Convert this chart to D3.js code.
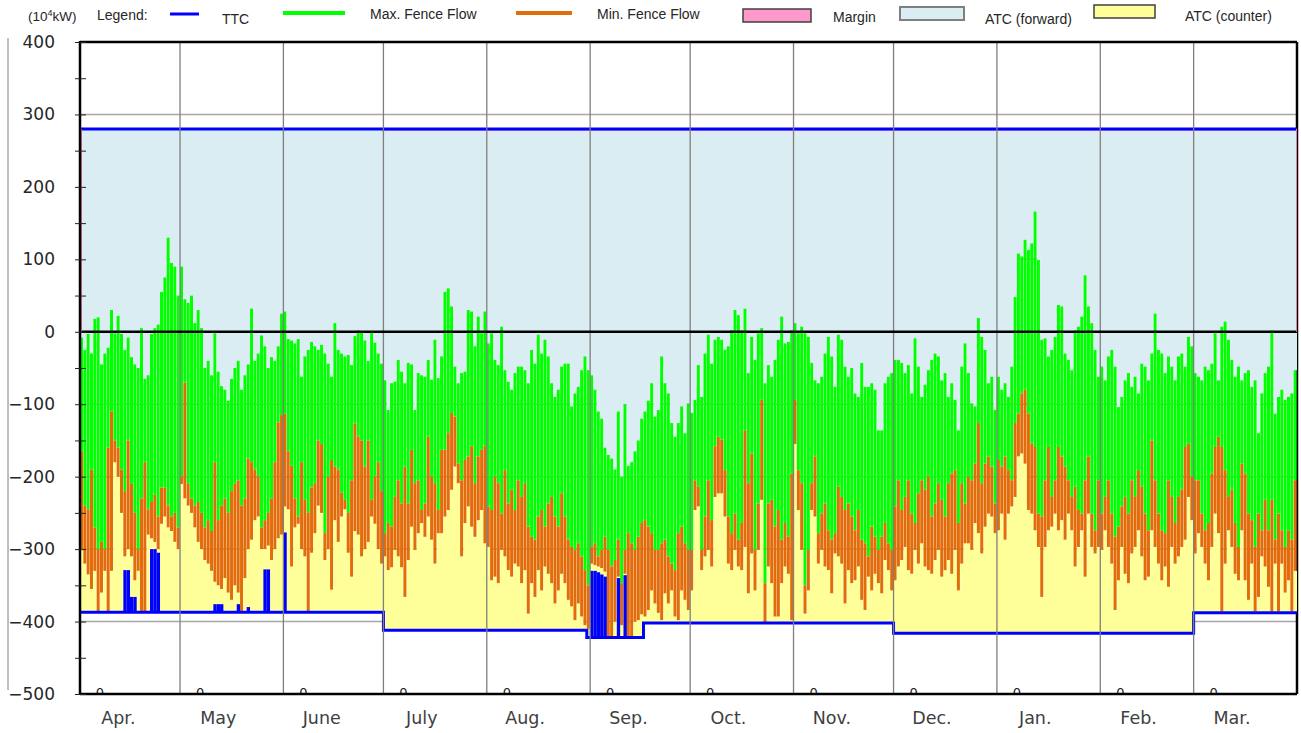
<!DOCTYPE html>
<html>
<head>
<meta charset="utf-8">
<script src="https://cdn.jsdelivr.net/npm/d3@7"></script>
<style>
  body { margin: 0; background: #fff; }
  svg { display: block; }
</style>
</head>
<body>
<svg id="chart" width="1301" height="733"></svg>
<script>
var months = ["Apr.", "May", "June", "July", "Aug.", "Sep.", "Oct.", "Nov.", "Dec.", "Jan.", "Feb.", "Mar."];
var monthDays = [30, 31, 30, 31, 31, 30, 31, 30, 31, 31, 28, 31];
var zeroCounts = [0, 0, 0, 0, 0, 0, 0, 0, 0, 0, 0, 0];
var yTicks = [-500, -400, -300, -200, -100, 0, 100, 200, 300, 400];

var ttcForward = 280;
var marginByMonth = [0, 0, 0, 3, 3, 3, 3, 3, 3, 3, 3, 3];
// [first day, level] of the counter-direction TTC
var ttcCounterSteps = [[0, -387], [91, -412], [152, -422], [169, -402], [244, -416], [334, -388]];
// days with a reduced counter TTC: [day, level]
var ttcCounterCuts = [[13, -329], [14, -329], [15, -366], [16, -366], [21, -300], [22, -300], [23, -305],
  [40, -376], [41, -376], [42, -376], [47, -376], [50, -380], [55, -328], [56, -328], [61, -277],
  [153, -330], [154, -330], [155, -332], [156, -335], [157, -338], [161, -340], [163, -336]];

// daily top of max fence flow (10^4 kW)
var maxFlowHigh = [
  -8,-25,-3,-30,18,20,-45,-30,-22,30,-2,22,-3,-25,-8,-35,-45,-50,5,-65,-60,-3,5,10,55,75,130,95,90,50,
  90,45,40,50,12,30,5,-50,-40,-60,-2,-55,-75,-80,-95,-65,-50,-40,-80,-60,-45,32,-40,-30,-5,-20,-50,-35,-40,-20,25,
  28,-10,-12,-16,-10,-62,-34,-25,-14,-20,-25,-18,-30,-44,-62,12,-25,-30,-34,-32,-46,-6,2,0,-12,-40,0,-15,-30,-44,
  -67,-108,-71,-69,-39,-55,-71,-43,-45,-108,-57,-60,-62,-39,-66,-11,-64,-34,55,60,35,-48,-71,-57,-55,30,28,-20,21,-2,28,
  -16,-2,-39,-46,7,-53,-69,-80,-57,-48,-48,-53,-71,-25,-44,-4,-30,-11,-34,-71,-90,-80,-48,-44,-44,-103,-85,-76,-53,-34,-53,
  -60,-80,-110,-120,-160,-170,-175,-190,-110,-200,-100,-185,-180,-165,-150,-120,-110,-95,-71,-117,-108,-34,-71,-85,-126,-145,-126,-103,-140,-99,
  -112,-94,-46,-90,-30,-4,-44,-11,-7,-11,-25,-20,2,30,23,2,32,-57,-7,-39,-2,5,-71,-46,-62,-39,-11,21,-16,-14,2,
  12,-2,7,-2,-7,-43,-67,-71,-62,-30,-7,-34,-76,-4,-11,-48,-62,-50,-85,-90,-43,-76,-76,-71,-80,-136,-136,-71,-62,-57,
  -39,-39,-43,-57,-46,-85,-9,-48,-90,-73,-53,-39,-30,-34,-67,-57,-90,-71,-94,-136,-48,-16,-57,-99,-103,19,-7,-25,-71,-62,-108,
  -62,-80,-71,-90,-48,48,108,104,127,113,122,166,99,-11,-9,-34,-25,-7,37,35,-30,-39,-53,2,7,21,78,35,12,-25,-62,
  -48,-67,-34,-25,-48,-104,-90,-67,-57,-76,-62,-85,-44,-48,-67,-30,25,-25,-30,-57,-34,-48,-67,-34,-30,-48,-7,-20,
  -57,-62,-67,-48,-53,-44,-2,-67,7,14,-11,-39,-62,-48,-67,-57,-53,-76,-67,-140,-85,-57,-48,2,-113,-90,-80,-94,-90,-85,-53
];

// daily top of min fence flow
var minFlowHigh = [
  -165,-240,-245,-190,-270,-300,-290,-300,-160,-110,-150,-160,-190,-220,-150,-210,-250,-300,-230,-180,-245,-235,-225,-255,-215,-215,-240,-255,-250,-270,
  -200,-70,-210,-230,-240,-235,-250,-270,-260,-275,-180,-260,-240,-230,-250,-220,-210,-205,-240,-230,-175,-180,-190,-200,-270,-260,-250,-230,-180,-125,-115,
  -113,-165,-185,-230,-255,-180,-232,-250,-215,-209,-150,-155,-278,-200,-177,-186,-190,-222,-232,-250,-205,-127,-145,-150,-186,-150,-232,-200,-180,-220,
  -278,-264,-269,-228,-205,-237,-186,-237,-163,-209,-205,-246,-237,-145,-200,-209,-246,-163,-163,-140,-112,-117,-182,-205,-177,-172,-158,-209,-172,-163,-158,
  -241,-246,-200,-209,-251,-191,-237,-218,-246,-205,-228,-209,-269,-283,-287,-255,-246,-269,-237,-228,-255,-269,-223,-255,-287,-297,-301,-292,-310,-329,-350,
  -297,-292,-310,-301,-283,-301,-324,-315,-287,-347,-301,-278,-292,-301,-283,-264,-260,-269,-278,-301,-301,-292,-287,-310,-320,-329,-278,-269,-292,-301,
  -301,-205,-214,-301,-255,-205,-260,-158,-145,-149,-191,-255,-278,-251,-287,-264,-136,-209,-168,-301,-237,-94,-347,-237,-232,-269,-246,-287,-264,-283,-196,
  -94,-191,-209,-350,-301,-209,-172,-278,-251,-237,-274,-287,-278,-214,-228,-246,-237,-255,-274,-246,-287,-292,-310,-269,-283,-301,-283,-264,-292,-301,
  -241,-205,-246,-228,-205,-251,-264,-223,-205,-218,-200,-255,-237,-209,-232,-255,-209,-196,-191,-264,-209,-237,-200,-205,-182,-126,-209,-182,-172,-186,-237,
  -177,-186,-172,-191,-205,-126,-113,-85,-80,-113,-154,-159,-251,-255,-205,-159,-228,-205,-159,-172,-186,-205,-228,-214,-246,-251,-205,-172,-251,-274,-205,
  -251,-228,-205,-251,-283,-269,-241,-228,-251,-205,-228,-191,-214,-251,-274,-150,-205,-251,-274,-278,-205,-228,-264,-228,-218,-159,-154,-200,
  -205,-205,-251,-274,-264,-196,-159,-145,-159,-191,-228,-218,-264,-297,-182,-196,-251,-260,-297,-251,-274,-232,-274,-232,-287,-251,-274,-297,-274,-287,-205
];

// daily bottom of min fence flow
var minFlowLow = [
  -300,-320,-335,-355,-330,-386,-360,-330,-386,-330,-180,-200,-250,-310,-300,-310,-343,-330,-386,-386,-280,-285,-290,-300,-265,-255,-270,-275,-290,-300,
  -210,-230,-240,-250,-270,-290,-300,-315,-320,-330,-345,-350,-355,-340,-360,-370,-350,-360,-386,-340,-300,-287,-260,-255,-300,-300,-295,-315,-300,-285,-280,
  -241,-245,-324,-270,-265,-300,-310,-386,-305,-278,-240,-250,-315,-300,-356,-260,-290,-255,-245,-305,-338,-275,-280,-310,-300,-290,-255,-265,-300,-320,
  -310,-329,-325,-301,-310,-325,-366,-315,-269,-301,-278,-264,-283,-255,-287,-320,-278,-278,-255,-246,-218,-186,-209,-310,-264,-241,-269,-283,-260,-246,-292,
  -297,-343,-338,-347,-301,-310,-329,-338,-320,-324,-347,-329,-389,-347,-366,-329,-357,-324,-334,-347,-375,-357,-334,-347,-370,-379,-398,-375,-393,-405,-410,
  -320,-322,-324,-326,-331,-421,-421,-400,-338,-405,-334,-421,-421,-400,-398,-390,-393,-384,-357,-375,-388,-398,-361,-375,-357,-393,-398,-357,-370,-384,
  -357,-246,-241,-329,-310,-301,-324,-228,-223,-223,-255,-320,-329,-301,-324,-329,-297,-361,-306,-357,-301,-232,-402,-324,-347,-393,-393,-347,-324,-334,-398,
  -155,-246,-301,-389,-357,-246,-255,-320,-301,-324,-329,-361,-306,-310,-320,-375,-329,-347,-343,-324,-370,-384,-338,-357,-334,-347,-361,-315,-329,-357,
  -343,-324,-315,-297,-329,-334,-301,-320,-292,-324,-329,-334,-315,-301,-338,-329,-315,-334,-301,-357,-320,-292,-292,-301,-264,-278,-306,-269,-251,-255,-278,
  -274,-251,-287,-251,-241,-228,-172,-168,-182,-246,-251,-274,-297,-366,-297,-274,-269,-251,-274,-260,-287,-251,-274,-324,-297,-274,-338,-251,-297,-306,-297,
  -301,-274,-297,-320,-384,-343,-297,-334,-347,-306,-297,-274,-310,-343,-338,-274,-297,-320,-343,-324,-352,-297,-320,-310,-297,-287,-228,-260,
  -306,-278,-297,-320,-343,-297,-251,-278,-386,-320,-274,-297,-334,-343,-274,-343,-370,-320,-386,-366,-310,-324,-352,-386,-320,-386,-320,-360,-343,-386,-330
];

var svg = d3.select("#chart");

var monthStart = [0].concat(Array.from(d3.cumsum(monthDays)));
var nDays = monthStart[12];

var x = d3.scaleLinear().domain([0, nDays]).range([80, 1297]);
var y = d3.scaleLinear().domain([-500, 400]).range([694, 42]);

function monthOf(d) { return d3.bisectRight(monthStart, d) - 1; }
function clampDay(d) { return Math.min(d, nDays - 1); }
function counterBase(d) {
  var v = ttcCounterSteps[0][1];
  ttcCounterSteps.forEach(function(s) { if (d >= s[0]) v = s[1]; });
  return v;
}

var days = d3.range(nDays + 1);
var bars = d3.range(nDays);
var bw = x(1) - x(0);

svg.append("defs").append("clipPath").attr("id", "plotClip")
  .append("rect").attr("x", x(0)).attr("y", y(400)).attr("width", x(nDays) - x(0)).attr("height", y(-500) - y(400) - 1);

var g = svg.append("g");

// horizontal grid
g.selectAll(".hgrid")
  .data(yTicks.slice(1, -1))
  .enter().append("line")
  .attr("x1", x(0)).attr("x2", x(nDays))
  .attr("y1", function(d) { return y(d); })
  .attr("y2", function(d) { return y(d); })
  .attr("stroke", "#a6a6a6").attr("stroke-width", 1.5);

g.append("line")
  .attr("x1", x(nDays)).attr("x2", x(nDays)).attr("y1", y(400)).attr("y2", y(-500))
  .attr("stroke", "#000").attr("stroke-width", 2.5);

var area = d3.area().curve(d3.curveStepAfter).x(function(d) { return x(d); });

// ATC forward
g.append("path").datum(days)
  .attr("fill", "#daedf3")
  .attr("d", area.y0(y(ttcForward)).y1(function(d) { return y(maxFlowHigh[clampDay(d)]); }));

// margin
g.append("path").datum(days)
  .attr("fill", "#ff8fc4")
  .attr("d", area.y0(y(ttcForward)).y1(function(d) { return y(ttcForward - marginByMonth[monthOf(clampDay(d))]); }));

// ATC counter
g.append("path").datum(days)
  .attr("fill", "#ffff99")
  .attr("d", area.y0(function(d) { return y(counterBase(clampDay(d))); })
    .y1(function(d) { return y(minFlowLow[clampDay(d)]); }));

g.selectAll(".gbar")
  .data(bars)
  .enter().append("rect")
  .attr("x", function(d) { return x(d); })
  .attr("width", bw - 0.35)
  .attr("y", function(d) { return y(maxFlowHigh[d]); })
  .attr("height", function(d) { return Math.max(0, y(minFlowHigh[d]) - y(maxFlowHigh[d])); })
  .attr("fill", "#00ff00");

g.selectAll(".obar")
  .data(bars)
  .enter().append("rect")
  .attr("x", function(d) { return x(d); })
  .attr("width", bw - 0.35)
  .attr("y", function(d) { return y(minFlowHigh[d]); })
  .attr("height", function(d) { return Math.max(0, y(minFlowLow[d]) - y(minFlowHigh[d])); })
  .attr("fill", "#e36c0a");

g.selectAll(".cut")
  .data(ttcCounterCuts)
  .enter().append("rect")
  .attr("x", function(d) { return x(d[0]); })
  .attr("width", bw)
  .attr("y", function(d) { return y(d[1]); })
  .attr("height", function(d) { return y(counterBase(d[0])) - y(d[1]); })
  .attr("fill", "#0000ff");

g.append("path").datum(days)
  .attr("fill", "none").attr("stroke", "#0000ff").attr("stroke-width", 3)
  .attr("d", d3.line().curve(d3.curveStepAfter)
    .x(function(d) { return x(d); })
    .y(function(d) { return y(counterBase(clampDay(d))); }));

g.append("line")
  .attr("x1", x(0)).attr("x2", x(nDays)).attr("y1", y(ttcForward)).attr("y2", y(ttcForward))
  .attr("stroke", "#0000ff").attr("stroke-width", 3);

// month separators
g.selectAll(".vgrid")
  .data(monthStart.slice(1, -1))
  .enter().append("line")
  .attr("x1", function(d) { return x(d); })
  .attr("x2", function(d) { return x(d); })
  .attr("y1", y(400)).attr("y2", y(-500))
  .attr("stroke", "#7f7f7f").attr("stroke-width", 1.3);

g.append("line")
  .attr("x1", x(0)).attr("x2", x(nDays)).attr("y1", y(0)).attr("y2", y(0))
  .attr("stroke", "#000").attr("stroke-width", 2.5);

[x(0) + 1.5, x(nDays) - 0.5].forEach(function(px) {
  g.append("line")
    .attr("x1", px).attr("x2", px).attr("y1", y(ttcForward)).attr("y2", y(0))
    .attr("stroke", "#e87aa8").attr("stroke-width", 1);
});

// per-month counts sitting on the bottom edge
g.append("g").attr("clip-path", "url(#plotClip)")
  .selectAll("text")
  .data(zeroCounts)
  .enter().append("text")
  .attr("x", function(d, i) { return x(monthStart[i] + 6); })
  .attr("y", y(-500) + 3)
  .attr("text-anchor", "middle")
  .attr("font-family", "DejaVu Sans").attr("font-size", 13).attr("fill", "#1a1a1a")
  .text(function(d) { return d; });

// frame
g.append("line").attr("x1", x(0)).attr("x2", x(nDays)).attr("y1", y(400)).attr("y2", y(400))
  .attr("stroke", "#000").attr("stroke-width", 2.5);
g.append("line").attr("x1", x(0)).attr("x2", x(0)).attr("y1", y(400) - 1).attr("y2", y(-500) + 1)
  .attr("stroke", "#000").attr("stroke-width", 2.5);
g.append("line").attr("x1", x(0)).attr("x2", x(nDays)).attr("y1", y(-500)).attr("y2", y(-500))
  .attr("stroke", "#000").attr("stroke-width", 2.5);

// y axis
var yAxis = g.append("g")
  .attr("transform", "translate(" + x(0) + ",0)")
  .call(d3.axisLeft(y)
    .tickValues(d3.range(-500, 401, 50))
    .tickSize(5)
    .tickPadding(20)
    .tickFormat(function(d) { return yTicks.indexOf(d) >= 0 ? d3.format("d")(d) : ""; }));
yAxis.select(".domain").remove();
yAxis.selectAll(".tick line").attr("x1", 6).attr("x2", -5).attr("stroke", "#222");
yAxis.selectAll(".tick text")
  .attr("font-family", "DejaVu Sans").attr("font-size", 17).attr("fill", "#262626");

g.selectAll(".mlabel")
  .data(months)
  .enter().append("text")
  .attr("x", function(d, i) { return x(monthStart[i] + 11.5); })
  .attr("y", 724)
  .attr("text-anchor", "middle")
  .attr("font-family", "DejaVu Sans").attr("font-size", 17.5).attr("fill", "#404040")
  .text(function(d) { return d; });

svg.append("line").attr("x1", 8).attr("x2", 8).attr("y1", 38).attr("y2", 690)
  .attr("stroke", "#bfbfbf").attr("stroke-width", 2);

// legend
var lg = svg.append("g").attr("font-family", "Liberation Sans, Arial, sans-serif").attr("font-size", 14).attr("fill", "#262626");

svg.select("defs").append("clipPath").attr("id", "unitClip")
  .append("rect").attr("x", 0).attr("y", 0).attr("width", 76).attr("height", 40);
var unit = lg.append("text").attr("x", 28).attr("y", 21).attr("font-size", 13.5).attr("clip-path", "url(#unitClip)");
unit.append("tspan").text("(10");
unit.append("tspan").attr("dy", -5).attr("font-size", 9).text("4");
unit.append("tspan").attr("dy", 5).text("kW)");

lg.append("text").attr("x", 97).attr("y", 20).text("Legend:");

var legendLines = [
  { x1: 170, x2: 199, y: 14, color: "#0000ff", w: 3, label: "TTC", lx: 222, ly: 24 },
  { x1: 283, x2: 345, y: 13, color: "#00ff00", w: 4, label: "Max. Fence Flow", lx: 370, ly: 19 },
  { x1: 516, x2: 572, y: 13, color: "#e36c0a", w: 4, label: "Min. Fence Flow", lx: 597, ly: 19 }
];
legendLines.forEach(function(l) {
  lg.append("line").attr("x1", l.x1).attr("x2", l.x2).attr("y1", l.y).attr("y2", l.y)
    .attr("stroke", l.color).attr("stroke-width", l.w);
  lg.append("text").attr("x", l.lx).attr("y", l.ly).text(l.label);
});

var legendBoxes = [
  { x: 743, w: 68, y: 9, h: 13, fill: "#ff99cc", stroke: "#404040", label: "Margin", lx: 833, ly: 22 },
  { x: 900, w: 64, y: 7, h: 13, fill: "#daedf3", stroke: "#7f7f7f", label: "ATC (forward)", lx: 985, ly: 24 },
  { x: 1094, w: 61, y: 5, h: 13, fill: "#ffff99", stroke: "#404040", label: "ATC (counter)", lx: 1185, ly: 21 }
];
legendBoxes.forEach(function(b) {
  lg.append("rect").attr("x", b.x).attr("y", b.y).attr("width", b.w).attr("height", b.h)
    .attr("fill", b.fill).attr("stroke", b.stroke).attr("stroke-width", b.stroke === "#7f7f7f" ? 2 : 1.5);
  lg.append("text").attr("x", b.lx).attr("y", b.ly).text(b.label);
});
</script>
</body>
</html>
